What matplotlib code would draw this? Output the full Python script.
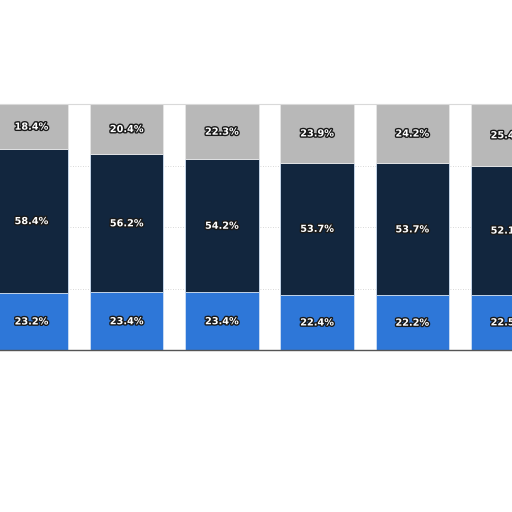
import numpy as np
import matplotlib
matplotlib.use("Agg")
import matplotlib.pyplot as plt
import matplotlib.patheffects as pe

# stacked shares per bar (bottom, middle, top)
bottom_share = [23.2, 23.4, 23.4, 22.4, 22.2, 22.5]
middle_share = [58.4, 56.2, 54.2, 53.7, 53.7, 52.1]
top_share = [18.4, 20.4, 22.3, 23.9, 24.2, 25.4]

c_blue = "#2e77d8"
c_navy = "#12263e"
c_grey = "#b8b8b8"

fig = plt.figure(figsize=(5.12, 5.12), dpi=100)
ax = fig.add_axes([0, 1 - 350 / 512, 1, 246 / 512])

x = np.arange(len(bottom_share))
b = np.array(bottom_share)
m = np.array(middle_share)
t = np.array(top_share)
w = 0.77

ax.bar(x, b, w, color=c_blue, edgecolor="#cfe0f5", linewidth=0.6, zorder=2)
ax.bar(x, m, w, bottom=b, color=c_navy, edgecolor="#cfe0f5", linewidth=0.6, zorder=2)
ax.bar(x, t, w, bottom=b + m, color=c_grey, edgecolor="#e6e6e6", linewidth=0.6, zorder=2)

fx = [pe.withStroke(linewidth=2, foreground="#1a1a1a")]
for i in x:
    segs = [(b[i] / 2, b[i]), (b[i] + m[i] / 2, m[i]), (b[i] + m[i] + t[i] / 2, t[i])]
    for yy, v in segs:
        ax.text(i, yy, f"{v:.1f}%", ha="center", va="center", color="white",
                fontsize=7, fontweight="bold", path_effects=fx, zorder=3)

ax.set_xlim(-0.331, 5.047)
ax.set_ylim(0, 100)
ax.set_yticks([25, 50, 75])
ax.yaxis.grid(True, linestyle=(0, (1, 2)), color="#cccccc", linewidth=0.6, zorder=0)
ax.tick_params(left=False, bottom=False, labelleft=False, labelbottom=False)
for s in ["left", "right"]:
    ax.spines[s].set_visible(False)
ax.spines["top"].set_color("#d9d9d9")
ax.spines["bottom"].set_color("#555555")
ax.spines["bottom"].set_linewidth(1.0)

fig.savefig("out.png", dpi=100)
